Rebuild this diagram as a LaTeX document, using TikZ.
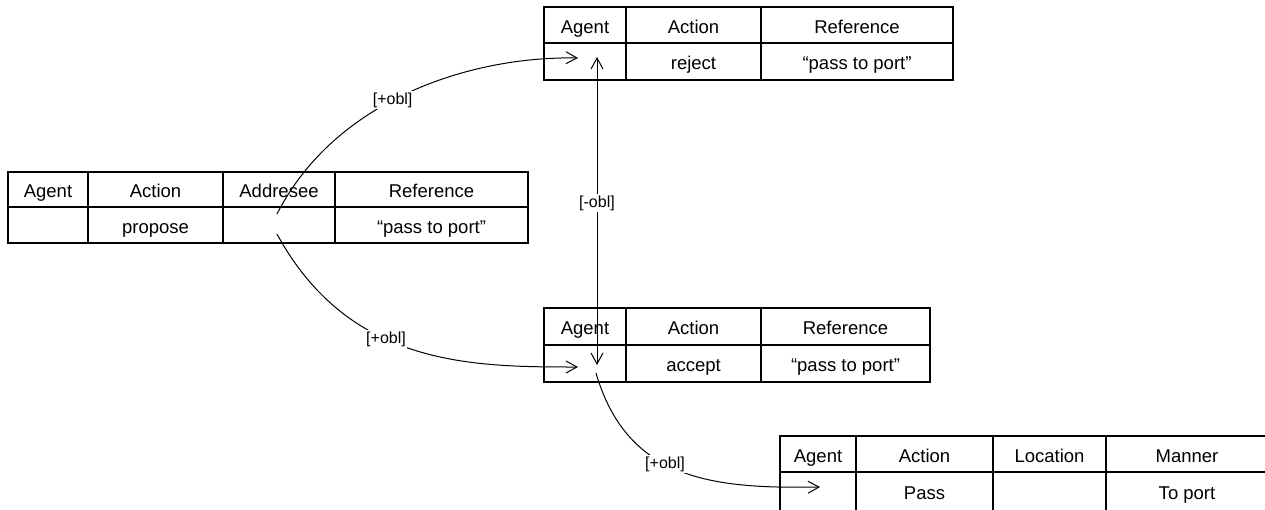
\documentclass[tikz,border=0pt]{standalone}
\usepackage{fontspec}
\setmainfont{Liberation Sans}
\usetikzlibrary{arrows.meta}
\newcommand\tcell[6]{\node[cell, minimum width={(#4-#2)*1pt}, minimum height={(#5-#3)*1pt}] (#1) at ({(#2+#4)/2},{(#3+#5)/2}) {#6};}
\begin{document}
\begin{tikzpicture}[x=1pt,y=-1pt,
  cell/.style={draw, line width=2pt, inner sep=0pt, outer sep=0pt,
    font=\fontsize{18.5}{20}\selectfont, text height=16pt, text depth=0pt},
  lbl/.style={fill=white, inner sep=1.5pt, font=\fontsize{16}{18}\selectfont},
  tip/.style={Straight Barb[length=11pt,width=12pt]},
  conn/.style={line width=1pt, -{Straight Barb[length=11pt,width=12pt]}}]
\useasboundingbox (0,0) rectangle (1265,509);
\fill[white] (0,0) rectangle (1265,509);
\clip (0,0) rectangle (1265,509);
% left table
\tcell{La1}{8}{172}{88}{207}{Agent}
\tcell{Lb1}{88}{172}{223}{207}{Action}
\tcell{Lc1}{223}{172}{335}{207}{Addresee}
\tcell{Ld1}{335}{172}{528}{207}{Reference}
\tcell{La2}{8}{207}{88}{243}{}
\tcell{Lb2}{88}{207}{223}{243}{propose}
\tcell{Lc2}{223}{207}{335}{243}{}
\tcell{Ld2}{335}{207}{528}{243}{“pass to port”}
% top table
\tcell{Ta1}{544}{7}{626}{43}{Agent}
\tcell{Tb1}{626}{7}{761}{43}{Action}
\tcell{Tc1}{761}{7}{953}{43}{Reference}
\tcell{Ta2}{544}{43}{626}{80}{}
\tcell{Tb2}{626}{43}{761}{80}{reject}
\tcell{Tc2}{761}{43}{953}{80}{“pass to port”}
% middle table
\tcell{Ma1}{544}{308}{626}{345}{Agent}
\tcell{Mb1}{626}{308}{761}{345}{Action}
\tcell{Mc1}{761}{308}{930}{345}{Reference}
\tcell{Ma2}{544}{345}{626}{382}{}
\tcell{Mb2}{626}{345}{761}{382}{accept}
\tcell{Mc2}{761}{345}{930}{382}{“pass to port”}
% bottom table
\tcell{Ba1}{780}{436}{856}{472}{Agent}
\tcell{Bb1}{856}{436}{993}{472}{Action}
\tcell{Bc1}{993}{436}{1106}{472}{Location}
\tcell{Bd1}{1106}{436}{1268}{472}{Manner}
\tcell{Ba2}{780}{472}{856}{511}{}
\tcell{Bb2}{856}{472}{993}{511}{Pass}
\tcell{Bc2}{993}{472}{1106}{511}{}
\tcell{Bd2}{1106}{472}{1268}{511}{To port}
% connector end points
\coordinate (s1) at (277,214);
\coordinate (s2) at (277,234);
\coordinate (t1) at (578,58);
\coordinate (t2) at (578,367);
\coordinate (v1) at (597,57);
\coordinate (v2) at (597,365);
\coordinate (s4) at (596,373);
\coordinate (t4) at (820,487);
% connectors
\draw[conn] (s1) .. controls +(58,-114) and +(-108,-2) .. (t1) node[lbl,pos=.45]{[+obl]};
\draw[conn] (s2) .. controls +(72,132) and +(-108,0) .. (t2) node[lbl,pos=.41]{[+obl]};
\draw[line width=1pt, {Straight Barb[length=11pt,width=12pt]}-{Straight Barb[length=11pt,width=12pt]}] (v1) -- (v2) node[lbl,pos=.474]{[-obl]};
\draw[conn] (s4) .. controls +(31,106) and +(-110,2) .. (t4) node[lbl,pos=.44]{[+obl]};
\end{tikzpicture}
\end{document}
